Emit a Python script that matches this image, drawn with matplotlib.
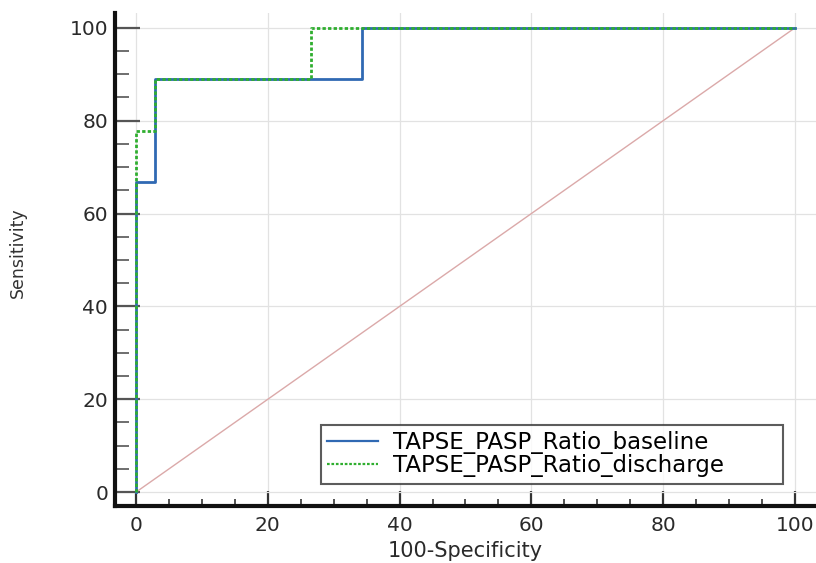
import matplotlib
matplotlib.use("Agg")
import matplotlib.pyplot as plt
from matplotlib.ticker import MultipleLocator

plt.rcParams['font.family'] = ['DejaVu Sans']

# ROC data (100-Specificity, Sensitivity)
base_x = [0, 0, 2.9, 2.9, 34.3, 34.3, 100]
base_y = [0, 66.7, 66.7, 88.9, 88.9, 100, 100]
dis_x = [0, 0, 2.9, 2.9, 26.5, 26.5, 100]
dis_y = [0, 77.8, 77.8, 88.9, 88.9, 100, 100]
diag = [0, 100]
labels = ['TAPSE_PASP_Ratio_baseline', 'TAPSE_PASP_Ratio_discharge']
ticks = [0, 20, 40, 60, 80, 100]

W, H = 816, 563
fig = plt.figure(figsize=(W / 100, H / 100), dpi=100)
ax = fig.add_axes([115 / W, 1 - 506 / H, 1 - 115 / W, (506 - 13) / H])

ax.plot(diag, diag, color='#dba9a9', lw=1.0, zorder=1)
ax.plot(base_x, base_y, color='#3069b3', lw=2.0, label=labels[0], zorder=3)
ax.plot(dis_x, dis_y, color='#2fae2f', lw=2.0, ls=(0, (1.2, 0.8)), label=labels[1], zorder=4)

ax.set_xlim(-3.2, 103.2)
ax.set_ylim(-3.0, 103.2)
ax.set_xticks(ticks)
ax.set_yticks(ticks)
ax.xaxis.set_minor_locator(MultipleLocator(5))
ax.yaxis.set_minor_locator(MultipleLocator(5))
ax.grid(True, which='major', color='#e2e2e2', lw=0.9, zorder=0)
ax.set_axisbelow(True)

for s in ['top', 'right']:
    ax.spines[s].set_visible(False)
for s in ['left', 'bottom']:
    ax.spines[s].set_linewidth(3)
    ax.spines[s].set_color('#111111')

ax.tick_params(axis='x', which='major', direction='in', length=11, width=1.6, color='#333333',
               labelsize=14.5, labelcolor='#2a2a2a', pad=7)
ax.tick_params(axis='x', which='minor', direction='in', length=5, width=1.2, color='#333333')
ax.tick_params(axis='y', which='major', direction='in', length=18, width=1.6, color='#555555',
               labelsize=14.5, labelcolor='#2a2a2a', pad=5)
ax.tick_params(axis='y', which='minor', direction='in', length=10, width=1.2, color='#555555')

ax.set_xlabel('100-Specificity', fontsize=15, color='#2a2a2a')
ax.xaxis.set_label_coords(0.5, (506 - 561) / (506 - 13), transform=ax.transAxes)
ax.xaxis.label.set_va('bottom')
ax.set_ylabel('Sensitivity', fontsize=12.5, color='#333333')
ax.yaxis.set_label_coords((18 - 115) / (W - 115), (506 - 253) / (506 - 13), transform=ax.transAxes)
ax.yaxis.label.set_va('center')

leg = ax.legend(loc='upper left',
                bbox_to_anchor=(321 / W, 1 - 483 / H, (783 - 321) / W, (483 - 425) / H),
                bbox_transform=fig.transFigure, mode='expand', borderaxespad=0,
                fontsize=16.5, frameon=True, fancybox=False, edgecolor='#333333',
                handlelength=2.2, handletextpad=0.65, borderpad=0.28, labelspacing=0.0)
leg.get_frame().set_linewidth(1.5)
for h in leg.get_lines():
    h.set_linewidth(1.6)

fig.savefig('out.png', dpi=100)
